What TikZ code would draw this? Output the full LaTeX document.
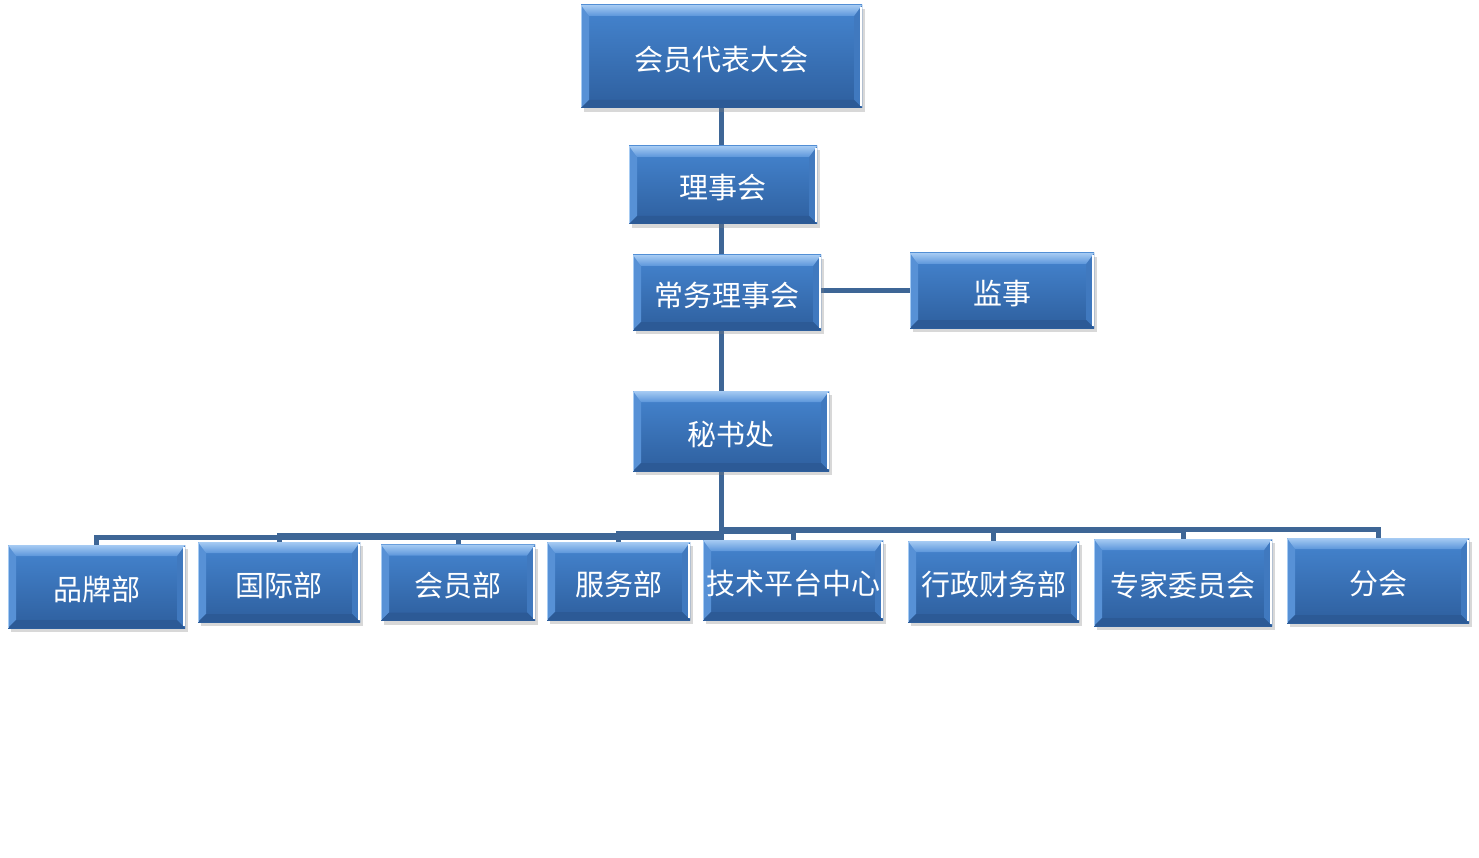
\documentclass[tikz,border=0pt]{standalone}
\usepackage{fontspec}
\newfontfamily\cjk{Noto Sans CJK SC}
\usetikzlibrary{shadows,backgrounds}
\definecolor{facetop}{HTML}{4585D0}
\definecolor{facebot}{HTML}{2E5F9E}
\definecolor{bevtopA}{HTML}{A6CBF3}
\definecolor{bevtopB}{HTML}{5C96DB}
\definecolor{bevleft}{HTML}{5791D6}
\definecolor{bevright}{HTML}{4079BF}
\definecolor{bevbot}{HTML}{2C5A96}
\definecolor{linec}{HTML}{3E6696}
\newcommand{\boxtxt}[1]{\raisebox{-14pt}[0pt][0pt]{#1}}
\tikzset{
  bx/.style={rectangle, inner sep=0pt, outer sep=0pt, text=white,
    font=\cjk\fontsize{29}{34}\selectfont,
    top color=facetop, bottom color=facebot, draw=none,
    drop shadow={shadow xshift=3pt, shadow yshift=-4pt, opacity=0.3, fill=black!50},
    path picture={
      \path (path picture bounding box.north west) coordinate (q1)
            (path picture bounding box.north east) coordinate (q2)
            (path picture bounding box.south east) coordinate (q3)
            (path picture bounding box.south west) coordinate (q4);
      \fill[bevleft] (q1) -- (q4) -- ([shift={(8pt,8pt)}]q4) -- ([shift={(8pt,-11pt)}]q1) -- cycle;
      \fill[bevright] (q2) -- (q3) -- ([shift={(-8pt,8pt)}]q3) -- ([shift={(-8pt,-11pt)}]q2) -- cycle;
      \fill[bevbot] (q4) -- (q3) -- ([shift={(-8pt,8pt)}]q3) -- ([shift={(8pt,8pt)}]q4) -- cycle;
      \shade[top color=bevtopA, bottom color=bevtopB] (q1) -- (q2) -- ([shift={(-8pt,-11pt)}]q2) -- ([shift={(8pt,-11pt)}]q1) -- cycle;
      \draw[white, line width=1.6pt] ([shift={(-1.2pt,-2pt)}]q2) -- ([shift={(-1.2pt,2pt)}]q3);
      \draw[bevtopA, line width=1pt] ([shift={(0.5pt,-0.5pt)}]q1) -- ([shift={(0.5pt,0.5pt)}]q4);
    }},
  conn/.style={draw=linec, line width=5pt}
}
\begin{document}
\begin{tikzpicture}[x=1pt,y=-1pt]
\useasboundingbox (0,0) rectangle (1479,858);
% top levels
\node[bx, minimum width=281pt, minimum height=103pt] (top) at (721.5,56.5) {\boxtxt{会员代表大会}};
\node[bx, minimum width=188pt, minimum height=78pt] (lsh) at (723,185) {\boxtxt{理事会}};
\node[bx, minimum width=188pt, minimum height=75pt] (cw) at (727,292.5) {\boxtxt{常务理事会}};
\node[bx, minimum width=184pt, minimum height=75pt] (jsh) at (1002,290.5) {\boxtxt{监事}};
\node[bx, minimum width=196pt, minimum height=80pt] (msc) at (731,431) {\boxtxt{秘书处}};
% departments
\node[bx, minimum width=177pt, minimum height=83pt] (pp) at (96.5,586.5) {\boxtxt{品牌部}};
\node[bx, minimum width=162pt, minimum height=80pt] (gj) at (279,582) {\boxtxt{国际部}};
\node[bx, minimum width=154pt, minimum height=76pt] (hy) at (458,582.5) {\boxtxt{会员部}};
\node[bx, minimum width=143pt, minimum height=78pt] (fw) at (618.5,581) {\boxtxt{服务部}};
\node[bx, minimum width=180pt, minimum height=80pt] (js) at (793,580) {\boxtxt{技术平台中心}};
\node[bx, minimum width=171pt, minimum height=81pt] (xz) at (993.5,581.5) {\boxtxt{行政财务部}};
\node[bx, minimum width=178pt, minimum height=87pt] (zj) at (1183,582.5) {\boxtxt{专家委员会}};
\node[bx, minimum width=182pt, minimum height=85pt] (fh) at (1378,580.5) {\boxtxt{分会}};
% connectors
\begin{scope}[on background layer]
\fill[white] (0,0) rectangle (1479,858);
\draw[conn] (top.south) -- (top.south |- lsh.north);
\draw[conn] (top.south |- lsh.south) -- (top.south |- cw.north);
\draw[conn] (top.south |- cw.south) -- (top.south |- msc.north);
\draw[conn] (cw.east |- jsh.west) -- (jsh.west);
\draw[conn] (top.south |- msc.south) -- (top.south |- 0,537) -| (pp.north);
\draw[conn] (top.south |- msc.south) -- (top.south |- 0,535) -| (gj.north);
\draw[conn] (top.south |- msc.south) -- (top.south |- 0,535) -| (hy.north);
\draw[conn] (top.south |- msc.south) -- (top.south |- 0,533) -| (fw.north);
\draw[conn] (top.south |- msc.south) -- (top.south |- 0,531) -| (js.north);
\draw[conn] (top.south |- msc.south) -- (top.south |- 0,530) -| (xz.north);
\draw[conn] (top.south |- msc.south) -- (top.south |- 0,530) -| (zj.north);
\draw[conn] (top.south |- msc.south) -- (top.south |- 0,529) -| (fh.north);
\end{scope}
\end{tikzpicture}
\end{document}
